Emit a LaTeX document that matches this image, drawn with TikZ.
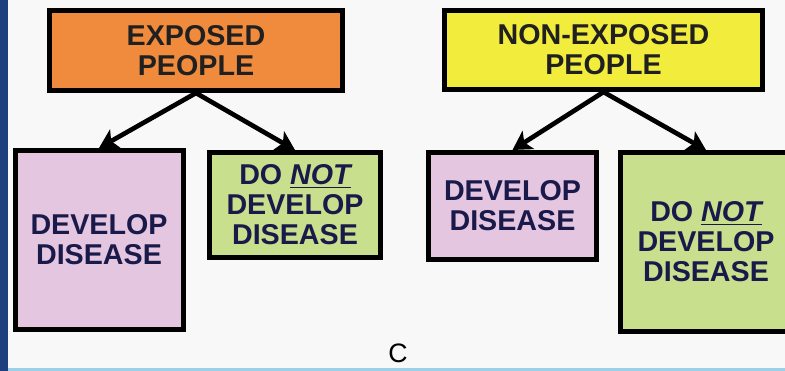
\documentclass[tikz,border=0pt]{standalone}
\usepackage{fontspec}
\setmainfont{Liberation Sans}
\usetikzlibrary{positioning,arrows.meta}
\definecolor{exbg}{HTML}{F8F8F8}
\definecolor{exstrip}{HTML}{1E3F7E}
\definecolor{exline}{HTML}{9BD0E8}
\definecolor{exorange}{HTML}{F08A3C}
\definecolor{exyellow}{HTML}{F2EC3C}
\definecolor{expink}{HTML}{E4C6E0}
\definecolor{exgreen}{HTML}{C8E08E}
\definecolor{extext}{HTML}{1A1A4A}
\definecolor{extop}{HTML}{202020}
\tikzset{
  bx/.style  ={rectangle, draw=black, line width=3.75pt, align=center,
               text=extext, font=\fontsize{21.5}{22.5}\selectfont\bfseries,
               inner sep=2pt},
  bxo/.style ={bx, fill=exorange, text=extop, minimum width=219.75pt, minimum height=60pt},
  bxy/.style ={bx, fill=exyellow, text=extop, minimum width=238.5pt, minimum height=59.25pt},
  bxp/.style ={bx, fill=expink, minimum width=126pt},
  bxg/.style ={bx, fill=exgreen, minimum width=128.25pt},
  fl/.style  ={-{Stealth[length=14pt,width=16pt,inset=3.5pt]}, line width=3.5pt, draw=black},
  lbl/.style ={font=\fontsize{20}{22}\selectfont, text=black, inner sep=0pt}
}

\begin{document}
\begin{tikzpicture}[x=0.75pt,y=-0.75pt]
  \fill[exbg] (0,0) rectangle (785,371);
  \useasboundingbox (0,0) rectangle (785,371);
  \fill[exstrip] (0,0) rectangle (8,371);
  \fill[exline] (8,368) rectangle (785,371);

  % exposed group
  \node[bxo] (exp) at (196,50.5) {EXPOSED\\PEOPLE};
  \node[bxp,minimum height=134.25pt] (edev) at (99,240) {DEVELOP\\DISEASE};
  \node[bxg,minimum height=78.75pt] (enot) at (295,205) {DO \textit{\underline{NOT}}\\DEVELOP\\DISEASE};
  \draw[fl] (exp.south) -- (edev.north);
  \draw[fl] (exp.south) -- (enot.north);

  % non-exposed group
  \node[bxy] (nexp) at (603.5,50) {NON-EXPOSED\\PEOPLE};
  \node[bxp,minimum height=80.25pt] (ndev) at (512.5,206) {DEVELOP\\DISEASE};
  \node[bxg,minimum height=134.25pt] (nnot) at (706,242) {DO \textit{\underline{NOT}}\\DEVELOP\\DISEASE};
  \draw[fl] (nexp.south) -- (ndev.north);
  \draw[fl] (nexp.south) -- (nnot.north);

  \node[lbl] (cap) at (398,353) {C};
\end{tikzpicture}
\end{document}
